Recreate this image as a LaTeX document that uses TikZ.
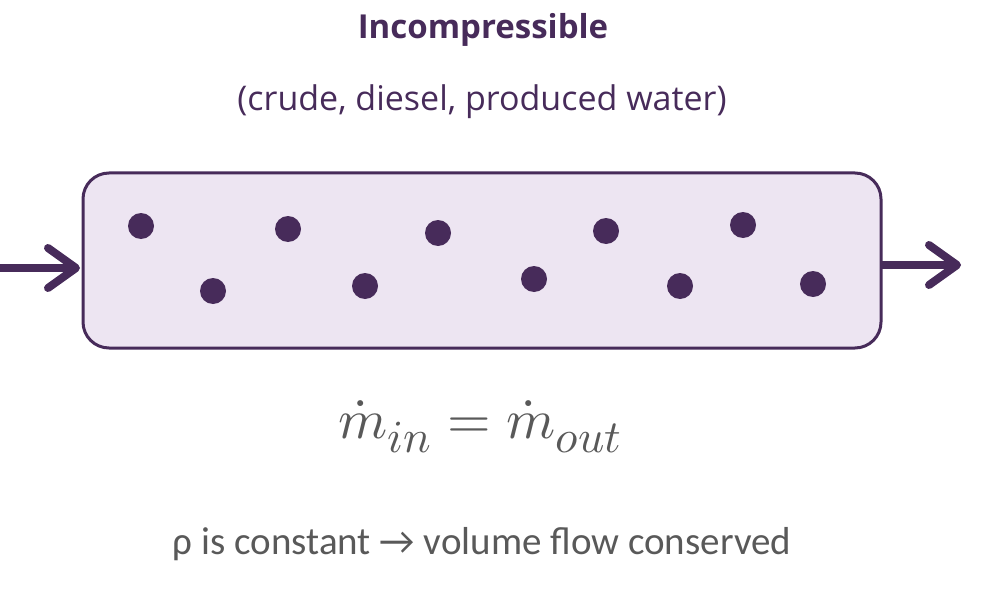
\documentclass[tikz,border=0pt]{standalone}
\usepackage{fontspec}
\usepackage{unicode-math}
\setmathfont{Latin Modern Math}
\setmainfont{Open Sans}
\newfontfamily\bodyfont{Carlito}
\DeclareMathSizes{56}{56}{46}{36}
\usetikzlibrary{arrows.meta}
\definecolor{plum}{HTML}{472B5A}
\definecolor{lilac}{HTML}{EDE5F2}
\definecolor{greytext}{HTML}{595959}
\tikzset{
  pipe/.style={draw=plum, line width=3, fill=lilac, rounded corners=26, minimum width=798, minimum height=175, inner sep=0},
  particle/.style={circle, fill=plum, minimum size=26, inner sep=0},
  flow/.style={draw=plum, line width=8, -{Straight Barb[length=28,width=40,round]}},
}
\begin{document}
\begin{tikzpicture}[x=1pt,y=-1pt]
\useasboundingbox (0,0) rectangle (1000,596);
\node[pipe] (box) at (482,260.5) {};
\foreach \n/\x/\y in {a/141/226, b/213/291, c/288/229, d/365/286, e/438/233, f/534/279, g/606/231, h/680/286, i/743/225, j/813/284}
  \node[particle] (\n) at (\x,\y) {};
\coordinate (inL) at (0,268);
\coordinate (inR) at (80,268);
\coordinate (outL) at (881,265);
\coordinate (outR) at (961,265);
\draw[flow] (inL) -- (inR);
\draw[flow] (outL) -- (outR);
\node[text=plum, font=\fontsize{33}{38}\selectfont\bfseries] (title) at (483,30) {Incompressible};
\node[text=plum, font=\fontsize{34}{40}\selectfont] (sub) at (482,102) {(crude, diesel, produced water)};
\node[text=greytext, font=\fontsize{56}{62}\selectfont] (eq) at (480,427) {$\dot m_{in} = \dot m_{out}$};
\node[text=greytext, font=\bodyfont\fontsize{39}{45}\selectfont] (note) at (482,544) {ρ is constant → volume flow conserved};
\end{tikzpicture}
\end{document}
